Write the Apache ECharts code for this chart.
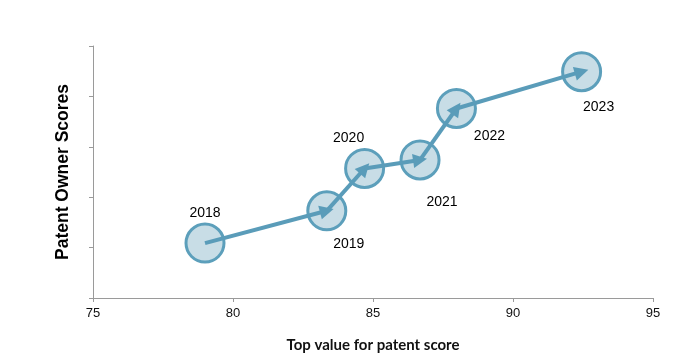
<!DOCTYPE html>
<html><head><meta charset="utf-8">
<script src="https://cdn.jsdelivr.net/npm/echarts@6/dist/echarts.min.js"></script>
<style>html,body{margin:0;padding:0;background:#fff}#c{width:677px;height:360px}</style>
</head><body><div id="c"></div>
<script>
const years = ['2018','2019','2020','2021','2022','2023'];
const topValue = [79.0, 83.35, 84.7, 86.68, 87.98, 92.45];
const ownerScore = [1.09, 1.73, 2.57, 2.74, 3.76, 4.49];
const xTicks = [75, 80, 85, 90, 95];

// label placement (style only)
const labelOffsets = {'2018':[0,-30],'2019':[22,33],'2020':[-16,-30],'2021':[22,42],'2022':[33,28],'2023':[17,35]};

const pts = years.map((y,i)=>({
  value:[topValue[i], ownerScore[i]], name:y,
  label:{offset:labelOffsets[y]}
}));
const segs = [];
for (let i=0;i<years.length-1;i++){
  segs.push({coords:[[topValue[i],ownerScore[i]],[topValue[i+1],ownerScore[i+1]]]});
}
const chart = echarts.init(document.getElementById('c'));
chart.setOption({
  animation:false,
  grid:{left:93,right:24,top:46,bottom:62},
  xAxis:{type:'value',min:xTicks[0],max:xTicks[xTicks.length-1],interval:5,
    splitLine:{show:false},
    axisLine:{lineStyle:{color:'#9a9a9a',width:1}},
    axisTick:{show:true,length:4,lineStyle:{color:'#9a9a9a'}},
    axisLabel:{color:'#111',fontSize:13,fontFamily:'Liberation Sans, Arial',margin:9},
    name:'Top value for patent score',nameLocation:'middle',nameGap:40,
    nameTextStyle:{color:'#111',fontSize:15,fontWeight:'bold',fontFamily:'Lato'}
  },
  yAxis:{type:'value',min:0,max:5,interval:1,
    splitLine:{show:false},
    axisLine:{show:true,lineStyle:{color:'#9a9a9a',width:1}},
    axisTick:{show:true,length:4,lineStyle:{color:'#9a9a9a'}},
    axisLabel:{show:false},
    name:'Patent Owner Scores',nameLocation:'middle',nameGap:21,
    nameTextStyle:{color:'#000',fontSize:17.5,fontWeight:'bold',fontFamily:'Liberation Sans, Arial'}
  },
  series:[
    {type:'scatter',data:pts,symbolSize:38,z:2,
     itemStyle:{color:'#c8dde6',borderColor:'#5c9fbb',borderWidth:3,opacity:1},
     label:{show:true,position:'inside',formatter:'{b}',color:'#000',textBorderWidth:0,fontSize:14,fontFamily:'Liberation Sans, Arial'},
     emphasis:{disabled:true}
    },
    {type:'lines',coordinateSystem:'cartesian2d',data:segs,z:3,
     symbol:['none','triangle'],symbolSize:[0,14],
     lineStyle:{color:'#5a9cb9',width:4,opacity:1}
    }
  ]
});
</script></body></html>
